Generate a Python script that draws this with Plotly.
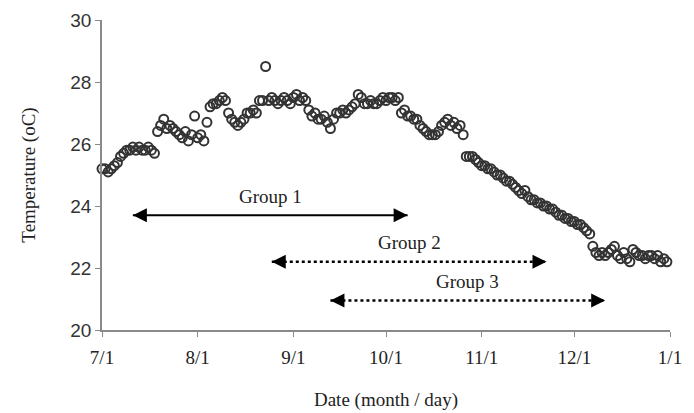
import pandas as pd
import plotly.graph_objects as go

# ---- data ----
start_date = "2011-07-01"
temps = [
    25.2, 25.2, 25.1, 25.2, 25.3, 25.4, 25.6, 25.7, 25.8, 25.8,
    25.9, 25.8, 25.9, 25.8, 25.8, 25.9, 25.8, 25.7, 26.4, 26.6,
    26.8, 26.5, 26.6, 26.5, 26.4, 26.3, 26.2, 26.4, 26.1, 26.3,
    26.9, 26.2, 26.3, 26.1, 26.7, 27.2, 27.3, 27.3, 27.4, 27.5,
    27.4, 27.0, 26.8, 26.7, 26.6, 26.7, 26.8, 27.0, 27.0, 27.1,
    27.0, 27.4, 27.4, 28.5, 27.4, 27.5, 27.4, 27.3, 27.4, 27.5,
    27.4, 27.3, 27.5, 27.6, 27.4, 27.5, 27.4, 27.1, 26.9, 27.0,
    26.8, 26.8, 26.9, 26.7, 26.5, 26.8, 27.0, 27.0, 27.1, 27.0,
    27.1, 27.2, 27.3, 27.6, 27.5, 27.3, 27.3, 27.4, 27.3, 27.3,
    27.4, 27.5, 27.4, 27.5, 27.5, 27.4, 27.5, 27.0, 27.1, 26.9,
    26.9, 26.8, 26.8, 26.6, 26.5, 26.4, 26.3, 26.3, 26.3, 26.4,
    26.6, 26.7, 26.8, 26.6, 26.7, 26.5, 26.6, 26.3, 25.6, 25.6,
    25.6, 25.5, 25.4, 25.3, 25.3, 25.2, 25.2, 25.1, 25.0, 25.0,
    24.9, 24.8, 24.8, 24.7, 24.6, 24.5, 24.4, 24.5, 24.3, 24.2,
    24.2, 24.1, 24.1, 24.0, 24.0, 23.9, 23.9, 23.8, 23.7, 23.7,
    23.6, 23.6, 23.5, 23.5, 23.4, 23.4, 23.3, 23.2, 23.1, 22.7,
    22.5, 22.4, 22.5, 22.4, 22.5, 22.6, 22.7, 22.4, 22.3, 22.5,
    22.3, 22.2, 22.6, 22.5, 22.4, 22.4, 22.3, 22.4, 22.4, 22.3,
    22.4, 22.2, 22.3, 22.2,
]
tick_dates = ["2011-07-01", "2011-08-01", "2011-09-01", "2011-10-01",
              "2011-11-01", "2011-12-01", "2012-01-01"]
tick_labels = ["7/1", "8/1", "9/1", "10/1", "11/1", "12/1", "1/1"]
y_ticks = [20, 22, 24, 26, 28, 30]

group_names = ["Group 1", "Group 2", "Group 3"]
group_start = ["2011-07-11", "2011-08-25", "2011-09-13"]
group_end = ["2011-10-08", "2011-11-22", "2011-12-11"]
group_level = [23.7, 22.2, 20.95]
group_dash = ["solid", "dot", "dot"]

dates = pd.date_range(start_date, periods=len(temps), freq="D")

serif = "Liberation Serif, Times New Roman, serif"
sans = "Liberation Sans, Arial, sans-serif"

fig = go.Figure()
fig.add_trace(go.Scatter(
    x=dates, y=temps, mode="markers", cliponaxis=False,
    marker=dict(symbol="circle-open", size=9, color="#333333",
                line=dict(width=2, color="#333333")),
    showlegend=False,
))

annotations = []
for name, s, e, lvl, dash in zip(group_names, group_start, group_end,
                                 group_level, group_dash):
    fig.add_trace(go.Scatter(
        x=[s, e], y=[lvl, lvl], mode="lines",
        line=dict(color="black", width=2.5 if dash != "solid" else 2, dash=dash),
        showlegend=False, hoverinfo="skip",
    ))
    for xpt, off in ((s, 12), (e, -12)):
        annotations.append(dict(
            x=xpt, y=lvl, xref="x", yref="y", ax=off, ay=0,
            text="", showarrow=True, arrowhead=2, arrowsize=1.4,
            arrowwidth=2, arrowcolor="black",
        ))
    mid = pd.Timestamp(s) + (pd.Timestamp(e) - pd.Timestamp(s)) / 2
    annotations.append(dict(
        x=mid, y=lvl, xref="x", yref="y", yshift=19, showarrow=False,
        text=name, font=dict(family=serif, size=19, color="#222"),
    ))

fig.update_layout(
    width=694, height=413,
    margin=dict(l=102, r=24, t=20, b=83),
    paper_bgcolor="white", plot_bgcolor="white",
    annotations=annotations,
    xaxis=dict(
        range=["2011-07-01", "2012-01-01"],
        tickvals=tick_dates, ticktext=tick_labels,
        automargin=False,
        showgrid=False, zeroline=False,
        showline=True, linecolor="#8a8a8a", linewidth=1.5,
        ticks="outside", ticklen=5, tickcolor="#8a8a8a",
        ticklabelstandoff=4,
        tickfont=dict(family=serif, size=19, color="#222"),
        title=dict(text="Date (month / day)",
                   font=dict(family=serif, size=19, color="#222"),
                   standoff=26),
    ),
    yaxis=dict(
        range=[20, 30], tickvals=y_ticks,
        automargin=False,
        showgrid=False, zeroline=False,
        showline=True, linecolor="#8a8a8a", linewidth=1.5,
        ticks="outside", ticklen=5, tickcolor="#8a8a8a",
        tickfont=dict(family=sans, size=19, color="#333"),
        title=dict(text="Temperature (oC)",
                   font=dict(family=serif, size=19, color="#222"),
                   standoff=30),
    ),
)

fig.write_html(
    "out.html",
    config={"displayModeBar": False},
    post_script="document.body.style.margin='0';document.body.style.overflow='hidden';",
)
